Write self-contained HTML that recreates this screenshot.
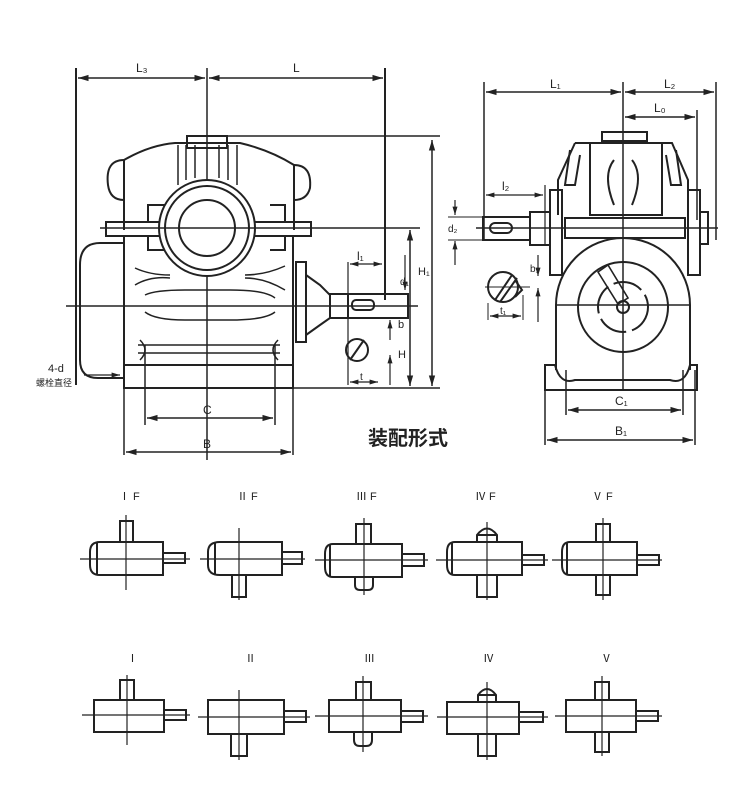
<!DOCTYPE html>
<html><head><meta charset="utf-8"><style>
html,body{margin:0;padding:0;background:#fff}
svg{display:block}
text{font-family:"Liberation Sans","Noto Sans CJK SC",sans-serif;fill:#222}
</style></head><body>
<svg width="750" height="788" viewBox="0 0 750 788" xmlns="http://www.w3.org/2000/svg">
<defs>
<marker id="a" viewBox="0 0 10 10" refX="10" refY="5" markerWidth="7" markerHeight="7" orient="auto-start-reverse"><path d="M0,2 L10,5 L0,8z" fill="#222"/></marker>
</defs>
<rect width="750" height="788" fill="#fff"/>
<g stroke="#222" stroke-width="2" fill="none">
<line x1="76" y1="68" x2="76" y2="385"/>
<line x1="385" y1="68" x2="385" y2="300"/>
<line x1="207" y1="68" x2="207" y2="460" stroke-width="1.5"/>
<line x1="78" y1="78" x2="205" y2="78" marker-start="url(#a)" marker-end="url(#a)" stroke-width="1.5"/>
<line x1="209" y1="78" x2="383" y2="78" marker-start="url(#a)" marker-end="url(#a)" stroke-width="1.5"/>
<line x1="187" y1="136" x2="440" y2="136" stroke-width="1.5"/>
<rect x="187" y="136" width="40" height="12"/>
<path d="M124,160 Q150,145 175,143 L240,143 Q270,150 294,165 L294,230 M124,160 L124,230"/>
<path d="M124,160 Q105,160 108,185 Q110,200 124,200"/>
<path d="M294,165 Q312,165 310,188 Q307,200 294,200"/>
<g stroke-width="1.5"><line x1="178" y1="145" x2="178" y2="185"/><line x1="186" y1="145" x2="186" y2="180"/><line x1="195" y1="145" x2="195" y2="178"/><line x1="219" y1="145" x2="219" y2="178"/><line x1="228" y1="145" x2="228" y2="180"/><line x1="237" y1="145" x2="237" y2="185"/></g>
<rect x="106" y="222" width="205" height="14"/>
<path d="M148,222 L148,205 L165,205 M270,205 L285,205 L285,222 M148,236 L148,250 L165,250 M270,250 L285,250 L285,236"/>
<circle cx="207" cy="228" r="48" fill="#fff"/>
<circle cx="207" cy="228" r="42"/>
<circle cx="207" cy="228" r="28"/>
<line x1="100" y1="228" x2="420" y2="228" stroke-width="1.5"/>
<path d="M124,236 L124,388 L293,388 L293,236"/>
<rect x="124" y="365" width="169" height="23"/>
<path d="M124,243 L100,243 Q80,243 80,265 L80,360 Q80,378 98,378 L124,378"/>
<g stroke-width="1.5">
<path d="M135,268 Q150,275 170,275 M135,285 Q150,276 170,278 M245,275 Q265,275 285,266 M245,278 Q265,278 285,290"/>
<path d="M145,295 Q155,290 185,290 L230,290 Q265,290 275,298 M145,312 Q155,320 185,320 L230,320 Q265,320 275,312"/>
<path d="M138,345 L280,345 M138,353 L280,353 M140,340 Q150,350 140,360 M278,340 Q268,350 278,360"/>
</g>
<line x1="66" y1="306" x2="418" y2="306" stroke-width="1.5"/>
<rect x="296" y="262" width="10" height="80"/>
<path d="M306,275 L320,285 L330,295 L330,318 L320,325 L306,335"/>
<rect x="330" y="294" width="18" height="24"/>
<rect x="348" y="294" width="60" height="24"/>
<rect x="352" y="300" width="22" height="10" rx="4"/>
<circle cx="357" cy="350" r="11"/>
<line x1="350" y1="360" x2="364" y2="340"/>
<line x1="348" y1="262" x2="348" y2="385" stroke-width="1.2"/>
<line x1="350" y1="264" x2="382" y2="264" marker-start="url(#a)" marker-end="url(#a)" stroke-width="1.2"/>
<line x1="350" y1="382" x2="378" y2="382" marker-start="url(#a)" marker-end="url(#a)" stroke-width="1.2"/>
<line x1="405" y1="255" x2="405" y2="290" marker-end="url(#a)" stroke-width="1.2"/>
<line x1="390" y1="320" x2="390" y2="340" marker-start="url(#a)" stroke-width="1.2"/>
<line x1="390" y1="355" x2="390" y2="385" marker-start="url(#a)" stroke-width="1.2"/>
<line x1="410" y1="230" x2="410" y2="386" marker-start="url(#a)" marker-end="url(#a)" stroke-width="1.5"/>
<line x1="432" y1="140" x2="432" y2="386" marker-start="url(#a)" marker-end="url(#a)" stroke-width="1.5"/>
<line x1="293" y1="388" x2="440" y2="388" stroke-width="1.5"/>
<line x1="145" y1="345" x2="145" y2="425" stroke-width="1.5"/>
<line x1="275" y1="345" x2="275" y2="425" stroke-width="1.5"/>
<line x1="124" y1="388" x2="124" y2="455" stroke-width="1.5"/>
<line x1="293" y1="388" x2="293" y2="455" stroke-width="1.5"/>
<line x1="147" y1="418" x2="273" y2="418" marker-start="url(#a)" marker-end="url(#a)" stroke-width="1.5"/>
<line x1="126" y1="452" x2="291" y2="452" marker-start="url(#a)" marker-end="url(#a)" stroke-width="1.5"/>
<line x1="84" y1="375" x2="120" y2="375" marker-end="url(#a)" stroke-width="1.2"/>

<line x1="484" y1="82" x2="484" y2="240" stroke-width="1.5"/>
<line x1="716" y1="82" x2="716" y2="240" stroke-width="1.5"/>
<line x1="697" y1="110" x2="697" y2="220" stroke-width="1.5"/>
<line x1="623" y1="82" x2="623" y2="390" stroke-width="1.5"/>
<line x1="486" y1="92" x2="621" y2="92" marker-start="url(#a)" marker-end="url(#a)" stroke-width="1.5"/>
<line x1="625" y1="92" x2="714" y2="92" marker-start="url(#a)" marker-end="url(#a)" stroke-width="1.5"/>
<line x1="625" y1="117" x2="695" y2="117" marker-start="url(#a)" marker-end="url(#a)" stroke-width="1.5"/>
<rect x="602" y="132" width="45" height="9"/>
<path d="M575,143 L660,143 L672,143 L688,180 L688,215 M575,143 L558,180 L558,215"/>
<rect x="590" y="143" width="72" height="72"/>
<path d="M570,150 L565,185 L575,185 L580,155 M676,150 L681,185 L671,185 L666,155"/>
<path d="M614,160 Q602,175 614,205 M632,160 Q644,175 632,205"/>
<rect x="565" y="218" width="120" height="20"/>
<rect x="550" y="190" width="12" height="85"/>
<rect x="688" y="190" width="12" height="85"/>
<rect x="700" y="212" width="8" height="32"/>
<rect x="483" y="217" width="47" height="23"/>
<rect x="530" y="212" width="20" height="33"/>
<rect x="490" y="223" width="22" height="10" rx="5"/>
<line x1="476" y1="228" x2="718" y2="228" stroke-width="1.5"/>
<line x1="545" y1="185" x2="545" y2="245" stroke-width="1.2"/>
<line x1="486" y1="195" x2="543" y2="195" marker-start="url(#a)" marker-end="url(#a)" stroke-width="1.2"/>
<line x1="455" y1="200" x2="455" y2="215" marker-end="url(#a)" stroke-width="1.2"/>
<line x1="455" y1="241" x2="455" y2="265" marker-start="url(#a)" stroke-width="1.2"/>
<line x1="448" y1="217" x2="484" y2="217" stroke-width="1"/>
<line x1="448" y1="240" x2="484" y2="240" stroke-width="1"/>
<circle cx="503" cy="287" r="15"/>
<path d="M495,300 L512,275 M500,302 L517,278 M515,280 L522,290 L515,297"/>
<line x1="485" y1="287" x2="530" y2="287" stroke-width="1"/>
<line x1="488" y1="303" x2="488" y2="320" stroke-width="1"/>
<line x1="523" y1="295" x2="523" y2="320" stroke-width="1"/>
<line x1="490" y1="316" x2="521" y2="316" marker-start="url(#a)" marker-end="url(#a)" stroke-width="1.2"/>
<line x1="538" y1="255" x2="538" y2="276" marker-end="url(#a)" stroke-width="1.2"/>
<line x1="538" y1="288" x2="538" y2="322" marker-start="url(#a)" stroke-width="1.2"/>
<path d="M556,370 L556,305 A67,67 0 0 1 690,305 L690,370"/>
<line x1="556" y1="305" x2="690" y2="305" stroke-width="1.5"/>
<circle cx="623" cy="307" r="45"/>
<circle cx="623" cy="307" r="25" stroke-dasharray="30 6"/>
<circle cx="623" cy="307" r="6"/>
<path d="M598,272 L608,265 L628,298 L618,304 Z" stroke-width="1.6"/>
<path d="M545,365 L555,365 Q560,385 575,380 L670,380 Q685,385 690,365 L697,365 L697,390 L545,390 Z"/>
<line x1="575" y1="380" x2="670" y2="380" stroke-dasharray="8 4" stroke-width="1.5"/>
<line x1="545" y1="370" x2="545" y2="445" stroke-width="1.5"/>
<line x1="695" y1="370" x2="695" y2="445" stroke-width="1.5"/>
<line x1="566" y1="370" x2="566" y2="415" stroke-width="1.5"/>
<line x1="683" y1="370" x2="683" y2="415" stroke-width="1.5"/>
<line x1="568" y1="410" x2="681" y2="410" marker-start="url(#a)" marker-end="url(#a)" stroke-width="1.5"/>
<line x1="547" y1="440" x2="693" y2="440" marker-start="url(#a)" marker-end="url(#a)" stroke-width="1.5"/>
</g>
<g font-size="12">
<text x="136" y="72">L₃</text><text x="293" y="72">L</text>
<text x="550" y="88">L₁</text><text x="664" y="88">L₂</text><text x="654" y="112">L₀</text>
<text x="502" y="190">l₂</text><text x="357" y="260">l₁</text>
<text x="203" y="414">C</text><text x="203" y="448">B</text>
<text x="615" y="405">C₁</text><text x="615" y="435">B₁</text>
<text x="500" y="314" font-size="10">t₁</text><text x="360" y="380" font-size="10">t</text>
<text x="530" y="272" font-size="10">b₁</text><text x="398" y="328" font-size="11">b</text>
<text x="398" y="358" font-size="11">H</text><text x="418" y="275" font-size="11">H₁</text>
<text x="400" y="285" font-size="10">d₁</text><text x="448" y="232" font-size="10">d₂</text>
<text x="48" y="372" font-size="11">4-d</text>
<text x="36" y="386" font-size="9">螺栓直径</text>
</g>
<text x="368" y="445" font-size="20" font-weight="bold">装配形式</text>

<g font-size="11">
<text x="119" y="500">Ⅰ F</text><text x="237" y="500">Ⅱ F</text><text x="356" y="500">Ⅲ F</text><text x="475" y="500">Ⅳ F</text><text x="592" y="500">Ⅴ F</text>
<text x="127" y="662">Ⅰ</text><text x="245" y="662">Ⅱ</text><text x="364" y="662">Ⅲ</text><text x="483" y="662">Ⅳ</text><text x="601" y="662">Ⅴ</text>
</g>
<g stroke="#222" stroke-width="2" fill="none">
<g>
<path d="M100,542 L163,542 L163,575 L100,575 Q90,575 90,565 L90,552 Q90,542 100,542 Z M97,542 L97,575"/>
<rect x="163" y="553" width="22" height="10"/><rect x="120" y="521" width="13" height="21"/>
<line x1="80" y1="559" x2="190" y2="559" stroke-width="1.2"/><line x1="126" y1="515" x2="126" y2="590" stroke-width="1.2"/>
</g>
<g>
<path d="M220,542 L282,542 L282,575 L220,575 Q208,575 208,565 L208,552 Q208,542 220,542 Z M215,542 L215,575"/>
<rect x="282" y="552" width="20" height="12"/><rect x="232" y="575" width="14" height="22"/>
<line x1="200" y1="559" x2="305" y2="559" stroke-width="1.2"/><line x1="239" y1="528" x2="239" y2="600" stroke-width="1.2"/>
</g>
<g>
<path d="M333,544 L402,544 L402,577 L333,577 Q325,577 325,567 L325,554 Q325,544 333,544 Z M330,544 L330,577"/>
<rect x="402" y="554" width="22" height="12"/><rect x="356" y="524" width="15" height="20"/>
<path d="M355,577 L355,585 Q355,590 360,590 L368,590 Q373,590 373,585 L373,577"/>
<line x1="315" y1="560" x2="428" y2="560" stroke-width="1.2"/><line x1="364" y1="518" x2="364" y2="595" stroke-width="1.2"/>
</g>
<g>
<path d="M455,542 L522,542 L522,575 L455,575 Q447,575 447,565 L447,552 Q447,542 455,542 Z M452,542 L452,575"/>
<rect x="522" y="555" width="22" height="10"/><rect x="477" y="575" width="20" height="22"/>
<path d="M477,542 L477,535 Q487,522 497,535 L497,542 M477,535 L497,535"/>
<line x1="436" y1="560" x2="548" y2="560" stroke-width="1.2"/><line x1="487" y1="522" x2="487" y2="600" stroke-width="1.2"/>
</g>
<g>
<path d="M570,542 L637,542 L637,575 L570,575 Q562,575 562,565 L562,552 Q562,542 570,542 Z M567,542 L567,575"/>
<rect x="637" y="555" width="22" height="10"/><rect x="596" y="524" width="14" height="18"/><rect x="596" y="575" width="14" height="20"/>
<line x1="552" y1="560" x2="662" y2="560" stroke-width="1.2"/><line x1="603" y1="518" x2="603" y2="600" stroke-width="1.2"/>
</g>
<g>
<rect x="94" y="700" width="70" height="32"/><rect x="164" y="710" width="22" height="10"/><rect x="120" y="680" width="14" height="20"/>
<line x1="82" y1="715" x2="190" y2="715" stroke-width="1.2"/><line x1="127" y1="675" x2="127" y2="745" stroke-width="1.2"/>
</g>
<g>
<rect x="208" y="700" width="76" height="34"/><rect x="284" y="711" width="22" height="11"/><rect x="231" y="734" width="16" height="22"/>
<line x1="198" y1="717" x2="310" y2="717" stroke-width="1.2"/><line x1="239" y1="690" x2="239" y2="760" stroke-width="1.2"/>
</g>
<g>
<rect x="329" y="700" width="72" height="32"/><rect x="401" y="711" width="22" height="11"/><rect x="356" y="682" width="15" height="18"/>
<path d="M354,732 L354,740 Q354,746 360,746 L366,746 Q372,746 372,740 L372,732"/>
<line x1="315" y1="716" x2="428" y2="716" stroke-width="1.2"/><line x1="363" y1="676" x2="363" y2="752" stroke-width="1.2"/>
</g>
<g>
<rect x="447" y="702" width="72" height="32"/><rect x="519" y="712" width="24" height="10"/><rect x="478" y="734" width="18" height="22"/>
<path d="M478,702 L478,695 Q487,683 496,695 L496,702 M478,695 L496,695"/>
<line x1="437" y1="717" x2="548" y2="717" stroke-width="1.2"/><line x1="487" y1="682" x2="487" y2="760" stroke-width="1.2"/>
</g>
<g>
<rect x="566" y="700" width="70" height="32"/><rect x="636" y="711" width="22" height="10"/><rect x="595" y="682" width="14" height="18"/><rect x="595" y="732" width="14" height="20"/>
<line x1="555" y1="716" x2="662" y2="716" stroke-width="1.2"/><line x1="602" y1="676" x2="602" y2="756" stroke-width="1.2"/>
</g>
</g>
</svg>
</body></html>
